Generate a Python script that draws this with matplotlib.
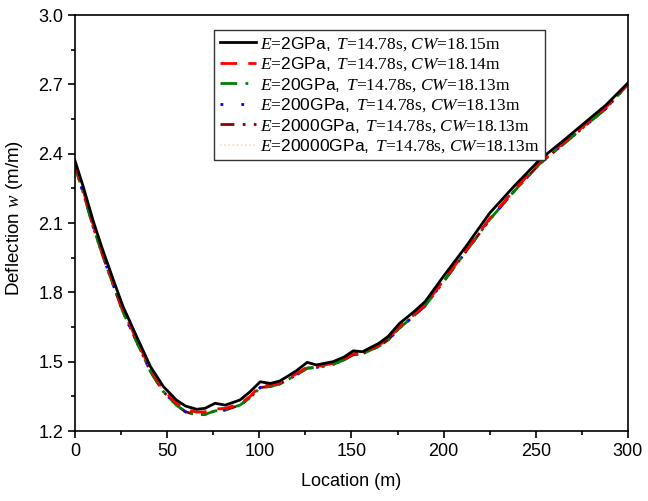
import matplotlib
matplotlib.use("Agg")
import matplotlib.pyplot as plt
from matplotlib.ticker import MultipleLocator

plt.rcParams['font.family'] = ['Liberation Sans', 'DejaVu Sans']
plt.rcParams['mathtext.fontset'] = 'custom'
plt.rcParams['mathtext.rm'] = 'Liberation Serif'
plt.rcParams['mathtext.it'] = 'Liberation Serif:italic'
plt.rcParams['mathtext.sf'] = 'Liberation Sans'

# location along the ice sheet (m)
loc = [0, 4.5, 10, 15, 21, 26, 33.5, 41, 48, 55, 60, 66, 70.5, 76, 81.5, 89.5,
       95, 100.5, 106, 111, 115, 120, 126, 131, 140, 146, 151, 156, 165, 170,
       176, 183, 190, 200, 212, 225, 238, 252, 264, 276, 288, 300]

# deflection for E=2GPa, CW=18.15m
w_e2_a = [2.37, 2.257, 2.106, 1.985, 1.85, 1.74, 1.608, 1.478, 1.392, 1.334,
          1.308, 1.294, 1.298, 1.320, 1.312, 1.334, 1.37, 1.413, 1.406, 1.416,
          1.435, 1.46, 1.497, 1.486, 1.50, 1.52, 1.547, 1.543, 1.58, 1.61,
          1.665, 1.71, 1.76, 1.87, 1.997, 2.143, 2.257, 2.373, 2.45, 2.53,
          2.61, 2.706]

# deflection for E=2GPa, CW=18.14m
w_e2_b = [2.355, 2.24, 2.09, 1.97, 1.835, 1.725, 1.595, 1.465, 1.378, 1.32,
          1.293, 1.282, 1.283, 1.295, 1.298, 1.318, 1.35, 1.395, 1.398, 1.408,
          1.425, 1.447, 1.477, 1.479, 1.493, 1.513, 1.535, 1.538, 1.572, 1.60,
          1.65, 1.697, 1.747, 1.852, 1.98, 2.12, 2.24, 2.36, 2.44, 2.52, 2.60,
          2.70]

# deflection for E=20..20000GPa, CW=18.13m (curves coincide)
w_stiff = [2.345, 2.23, 2.08, 1.96, 1.826, 1.716, 1.586, 1.456, 1.37, 1.312,
           1.283, 1.27, 1.272, 1.287, 1.291, 1.312, 1.344, 1.388, 1.393, 1.403,
           1.42, 1.442, 1.472, 1.475, 1.488, 1.508, 1.53, 1.534, 1.567, 1.595,
           1.645, 1.692, 1.742, 1.847, 1.975, 2.115, 2.235, 2.355, 2.435, 2.515,
           2.595, 2.70]

moduli = ['2', '2', '20', '200', '2000', '20000']
widths = ['18.15', '18.14', '18.13', '18.13', '18.13', '18.13']
labels = [r'$E$=$\mathsf{%sGPa,}$ $T$=14.78s, $CW$=%sm' % (e, c)
          for e, c in zip(moduli, widths)]

fig = plt.figure(figsize=(6.48, 5.01), dpi=100)
ax = fig.add_axes([0.1157, 0.1397, 0.8533, 0.8303])

ax.plot(loc, w_stiff, color='#ffd9b8', linestyle=(0, (1, 1.5)), lw=1.2, label=labels[5])
ax.plot(loc, w_stiff, color='#8b0000', linestyle=(0, (5, 3, 1, 3, 1, 3)), lw=2, label=labels[4])
ax.plot(loc, w_stiff, color='blue', linestyle=(0, (1, 6.5)), lw=2, label=labels[3])
ax.plot(loc, w_stiff, color='green', linestyle=(0, (6, 3, 1, 3)), lw=2, label=labels[2])
ax.plot(loc, w_e2_b, color='red', linestyle=(0, (6, 4)), lw=2, label=labels[1])
ax.plot(loc, w_e2_a, color='black', linestyle='-', lw=2, label=labels[0])

h, l = ax.get_legend_handles_labels()
leg = ax.legend(h[::-1], l[::-1], loc='upper left', bbox_to_anchor=(0.252, 0.965),
                prop={'family': 'Liberation Serif', 'size': 12.5},
                handlelength=2.1, labelspacing=0.16, handletextpad=0.25,
                borderpad=0.3, fancybox=False, framealpha=1, borderaxespad=0)
leg.get_frame().set_edgecolor('#333333')
leg.get_frame().set_linewidth(1.0)

ax.set_xlim(0, 300)
ax.set_ylim(1.2, 3.0)
ax.xaxis.set_major_locator(MultipleLocator(50))
ax.xaxis.set_minor_locator(MultipleLocator(25))
ax.yaxis.set_major_locator(MultipleLocator(0.3))
ax.yaxis.set_minor_locator(MultipleLocator(0.15))
ax.tick_params(which='both', direction='out', labelsize=13, width=1.2)
ax.tick_params(which='major', length=5)
ax.tick_params(which='minor', length=3)
for s in ax.spines.values():
    s.set_linewidth(1.2)

ax.set_xlabel('Location (m)', fontsize=13)
ax.set_ylabel(r'Deflection $w$ (m/m)', fontsize=13.5)
ax.xaxis.set_label_coords(0.5, -0.1)
ax.yaxis.set_label_coords(-0.09, 0.512)

fig.savefig('out.png', dpi=100)
